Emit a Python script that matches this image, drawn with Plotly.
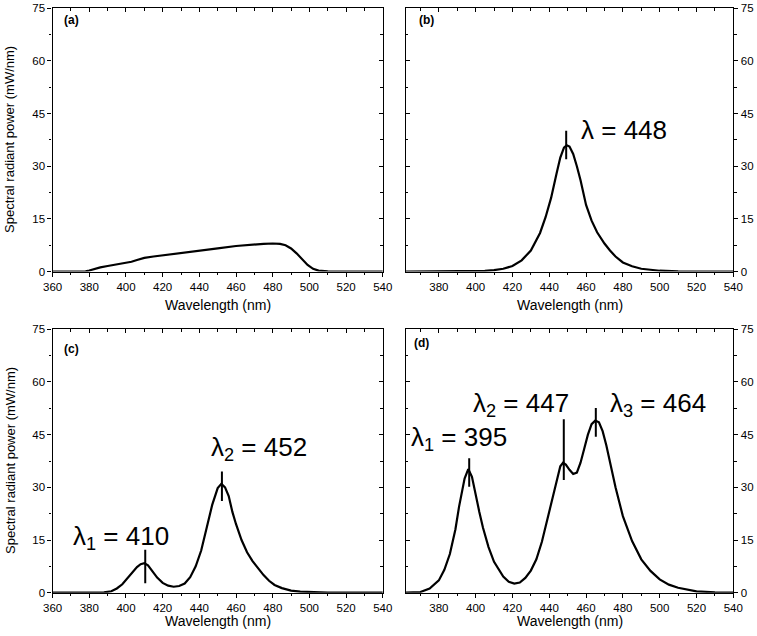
import plotly.graph_objects as go

# ---------------- data ----------------
a_x = [360, 370, 375, 378, 380, 383, 386, 390, 395, 400, 403, 406, 410, 415, 420, 430, 440, 450, 460,
       470, 475, 480, 484, 487, 490, 493, 496, 499, 502, 505, 510, 520, 530, 540]
a_y = [0, 0, 0, 0.05, 0.3, 0.8, 1.2, 1.6, 2.0, 2.4, 2.8, 3.3, 3.9, 4.3, 4.6, 5.3, 6.0, 6.6, 7.3,
       7.8, 7.9, 8.0, 7.9, 7.5, 6.6, 5.2, 3.5, 1.9, 0.8, 0.3, 0.1, 0, 0, 0]

b_x = [362, 380, 390, 400, 405, 410, 415, 420, 425, 430, 435, 438, 441, 444, 446, 448, 449.5, 451,
       453, 455, 457, 460, 463, 466, 470, 473, 476, 480, 485, 490, 495, 500, 510, 520, 540]
b_y = [0, 0, 0.02, 0.1, 0.2, 0.4, 0.8, 1.6, 3.2, 6, 11, 15.5, 21, 28, 32.5, 35.3, 36, 35.6,
       33.5, 30, 26, 19, 14.5, 11.2, 8, 6, 4.3, 2.6, 1.5, 0.8, 0.45, 0.25, 0.08, 0.02, 0]

c_x = [360, 380, 388, 392, 395, 398, 400, 403, 406, 408, 410, 412, 414, 417, 420, 423, 426, 429,
       432, 435, 438, 441, 444, 447, 450, 452, 454, 456, 458, 460, 463, 466, 469, 472, 475, 478,
       481, 485, 490, 495, 500, 510, 520, 540]
c_y = [0, 0, 0.1, 0.4, 1.2, 2.4, 3.6, 5.5, 7.3, 8.1, 8.4, 7.8, 6.4, 4.3, 2.8, 2.0, 1.7, 1.9,
       2.6, 4.4, 7.5, 12, 18.5, 25, 29.8, 31, 30, 27.5, 23, 19.5, 15, 11.5, 9, 7, 5, 3.4,
       2.2, 1.3, 0.6, 0.3, 0.15, 0.05, 0, 0]

d_x = [362, 370, 375, 380, 383, 386, 389, 391, 394, 396, 398, 400, 402, 404, 407, 410, 415, 418,
       421, 424, 427, 430, 433, 436, 439, 442, 444, 446, 447.5, 449, 451, 453, 455, 457, 459, 461,
       463, 465, 467, 469, 471, 473, 476, 480, 485, 490, 495, 500, 505, 510, 520, 530, 540]
d_y = [0, 0.2, 1.2, 3.5, 6.5, 11, 18, 24.5, 32.5, 35.2, 33, 27.5, 23, 18.5, 13, 8.8, 4.6, 3.1,
       2.6, 2.9, 4.2, 6.3, 9.5, 14.5, 21, 28, 32.5, 36, 37, 36.5, 35, 33.8, 34.2, 37, 41, 45,
       48, 49, 48.5, 46, 42, 37, 30, 21.8, 14.7, 9.5, 6.2, 3.8, 2.3, 1.4, 0.4, 0.1, 0]

# peak markers: x, y-low, y-high
b_peak_x = [449.2]
b_peak_lo = [32.0]
b_peak_hi = [40.1]
c_peak_x = [410.5, 452.3]
c_peak_lo = [2.7, 26.1]
c_peak_hi = [12.2, 34.5]
d_peak_x = [396.5, 447.9, 465.3]
d_peak_lo = [30.2, 32.1, 44.4]
d_peak_hi = [38.3, 49.4, 52.6]

# peak labels: text, left x, centre y
b_lab = ["λ = 448"]
b_lab_x = [456.0]
b_lab_y = [40.3]
c_lab = ["λ<sub>1</sub> = 410", "λ<sub>2</sub> = 452"]
c_lab_x = [369.8, 445.0]
c_lab_y = [15.6, 41.0]
d_lab = ["λ<sub>1</sub> = 395", "λ<sub>2</sub> = 447", "λ<sub>3</sub> = 464"]
d_lab_x = [364.0, 397.5, 471.8]
d_lab_y = [44.0, 53.6, 53.6]

panel_names = ["(a)", "(b)", "(c)", "(d)"]
x_title = "Wavelength (nm)"
y_title = "Spectral radiant power (mW/nm)"
y_ticks = [0, 15, 30, 45, 60, 75]

# ---------------- layout geometry ----------------
W, H = 757, 636
FONT = "Liberation Sans, Arial, sans-serif"


def px_x(p):
    return p / W


def px_y(p):
    return 1 - p / H


dom_x_left = [px_x(52.6), px_x(382.8)]
dom_x_right = [px_x(405.7), px_x(733.3)]
dom_y_top = [px_y(271.6), px_y(8.3)]
dom_y_bot = [px_y(592.7), px_y(329.3)]

panels = [
    dict(n=1, xs=a_x, ys=a_y, xr=[360, 540], dx=dom_x_left, dy=dom_y_top, yside="left",
         px=[], plo=[], phi=[], lab=[], lx=[], ly=[], tb=305, let=(62, 20)),
    dict(n=2, xs=b_x, ys=b_y, xr=[362, 540], dx=dom_x_right, dy=dom_y_top, yside="right",
         px=b_peak_x, plo=b_peak_lo, phi=b_peak_hi, lab=b_lab, lx=b_lab_x, ly=b_lab_y,
         tb=305, let=(417, 20)),
    dict(n=3, xs=c_x, ys=c_y, xr=[360, 540], dx=dom_x_left, dy=dom_y_bot, yside="left",
         px=c_peak_x, plo=c_peak_lo, phi=c_peak_hi, lab=c_lab, lx=c_lab_x, ly=c_lab_y,
         tb=621, let=(62, 349)),
    dict(n=4, xs=d_x, ys=d_y, xr=[362, 540], dx=dom_x_right, dy=dom_y_bot, yside="right",
         px=d_peak_x, plo=d_peak_lo, phi=d_peak_hi, lab=d_lab, lx=d_lab_x, ly=d_lab_y,
         tb=621, let=(412, 343)),
]

fig = go.Figure()
layout = {}
annotations = []
shapes = []

tickfont = dict(family=FONT, size=11.5, color="black")

for i, p in enumerate(panels):
    n = p["n"]
    xn = "x" if n == 1 else f"x{n}"
    yn = "y" if n == 1 else f"y{n}"
    xkey = "xaxis" if n == 1 else f"xaxis{n}"
    ykey = "yaxis" if n == 1 else f"yaxis{n}"
    on = n + 4  # overlay axes index
    fig.add_trace(go.Scatter(x=p["xs"], y=p["ys"], mode="lines", xaxis=xn, yaxis=yn,
                             line=dict(color="black", width=2.2), showlegend=False,
                             hoverinfo="skip"))
    fig.add_trace(go.Scatter(x=[None], y=[None], xaxis=f"x{on}", yaxis=f"y{on}",
                             showlegend=False, hoverinfo="skip"))
    layout[xkey] = dict(domain=p["dx"], anchor=yn, range=p["xr"], dtick=20, tick0=360,
                        ticks="outside", ticklen=4, tickwidth=1.2, tickcolor="black",
                        minor=dict(dtick=10, tick0=360, ticks="outside", ticklen=2.5,
                                   tickwidth=1.2, tickcolor="black"),
                        showline=True, linecolor="black", linewidth=1.3, mirror=True,
                        showgrid=False, zeroline=False, tickfont=tickfont, automargin=False)
    layout[ykey] = dict(domain=p["dy"], anchor=xn, range=[0, 75], tickvals=y_ticks,
                        side=p["yside"],
                        ticks="outside", ticklen=4, tickwidth=1.2, tickcolor="black",
                        minor=dict(dtick=7.5, tick0=0, ticks="outside", ticklen=2.5,
                                   tickwidth=1.2, tickcolor="black"),
                        showline=True, linecolor="black", linewidth=1.3, mirror=True,
                        showgrid=False, zeroline=False, tickfont=tickfont, automargin=False)
    layout[f"xaxis{on}"] = dict(overlaying=xn, anchor=yn, side="top", range=p["xr"], dtick=20,
                                tick0=360, ticks="inside", ticklen=4, tickwidth=1.2,
                                tickcolor="black", showticklabels=False,
                                minor=dict(dtick=10, tick0=360, ticks="inside", ticklen=2.5,
                                           tickwidth=1.2, tickcolor="black"),
                                showline=False, showgrid=False, zeroline=False,
                                automargin=False)
    layout[f"yaxis{on}"] = dict(overlaying=yn, anchor=xn,
                                side="right" if p["yside"] == "left" else "left",
                                range=[0, 75], tickvals=y_ticks, ticks="inside", ticklen=4,
                                tickwidth=1.2, tickcolor="black", showticklabels=False,
                                minor=dict(dtick=7.5, tick0=0, ticks="inside", ticklen=2.5,
                                           tickwidth=1.2, tickcolor="black"),
                                showline=False, showgrid=False, zeroline=False,
                                automargin=False)

    # peak marker lines
    for xx, lo, hi in zip(p["px"], p["plo"], p["phi"]):
        shapes.append(dict(type="line", xref=xn, yref=yn, x0=xx, x1=xx, y0=lo, y1=hi,
                           line=dict(color="black", width=2)))
    # peak labels
    for t, lx, ly in zip(p["lab"], p["lx"], p["ly"]):
        annotations.append(dict(text=t, xref=xn, yref=yn, x=lx, y=ly, xanchor="left",
                                yanchor="middle", showarrow=False,
                                font=dict(family=FONT, size=26, color="black")))

    # panel letter
    annotations.append(dict(text=f"<b>{panel_names[i]}</b>", xref="paper", yref="paper",
                            x=px_x(p["let"][0]), y=px_y(p["let"][1]), xanchor="left",
                            yanchor="middle", showarrow=False,
                            font=dict(family=FONT, size=12, color="black")))
    # x title
    annotations.append(dict(text=x_title, xref="paper", yref="paper",
                            x=(p["dx"][0] + p["dx"][1]) / 2, y=px_y(p["tb"]),
                            xanchor="center", yanchor="middle", showarrow=False,
                            font=dict(family=FONT, size=14, color="black")))
    # y title for left panels
    if p["yside"] == "left":
        annotations.append(dict(text=y_title, xref="paper", yref="paper", x=px_x(10),
                                y=(p["dy"][0] + p["dy"][1]) / 2, xanchor="center",
                                yanchor="middle", textangle=-90, showarrow=False,
                                font=dict(family=FONT, size=13, color="black")))

fig.update_layout(width=W, height=H, margin=dict(l=0, r=0, t=0, b=0),
                  paper_bgcolor="white", plot_bgcolor="white",
                  annotations=annotations, shapes=shapes,
                  font=dict(family=FONT, color="black"), **layout)

fig.write_html("out.html", config={"displayModeBar": False},
               post_script="document.body.style.margin='0';document.body.style.overflow='hidden';")
